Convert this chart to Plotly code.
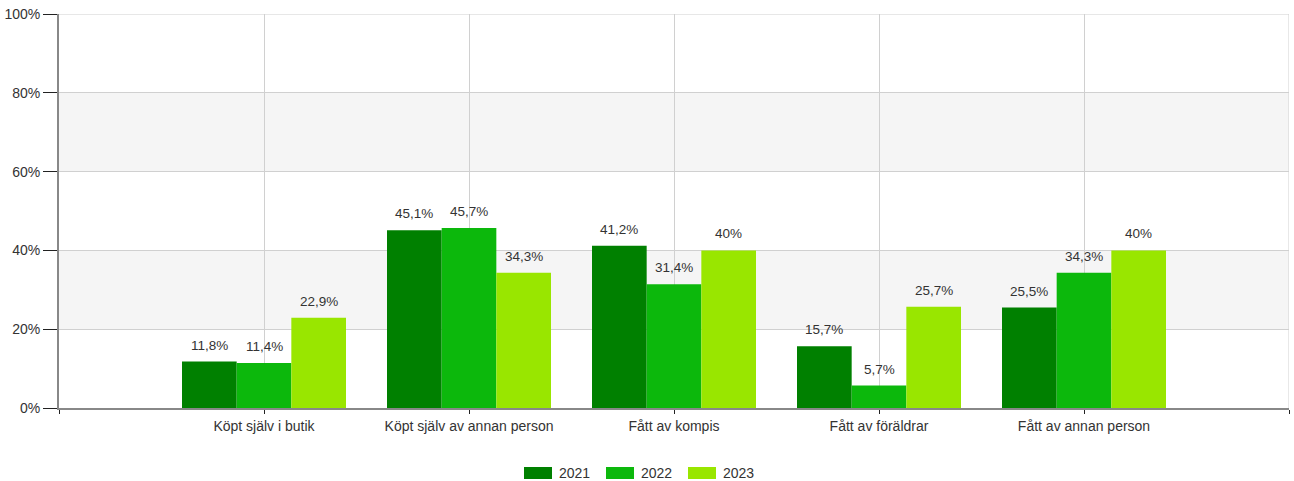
import plotly.graph_objects as go

categories = ["Köpt själv i butik", "Köpt själv av annan person", "Fått av kompis", "Fått av föräldrar", "Fått av annan person"]
years = ["2021", "2022", "2023"]
v2021 = [11.8, 45.1, 41.2, 15.7, 25.5]
v2022 = [11.4, 45.7, 31.4, 5.7, 34.3]
v2023 = [22.9, 34.3, 40, 25.7, 40]
series = [v2021, v2022, v2023]
colors = ["#008000", "#0cb80c", "#99e600"]
y_ticks = [0, 20, 40, 60, 80, 100]

FONT = "Liberation Sans, Arial, sans-serif"
TXT = "#333333"
GRID = "#d0d0d0"

def fmt(v):
    return f"{v:g}".replace(".", ",") + "%"

fig = go.Figure()
n = len(series)
bw = 0.8 / n
xs = list(range(len(categories)))
annotations = []
for i, (yr, vals, col) in enumerate(zip(years, series, colors)):
    off = -0.4 + i * bw
    fig.add_trace(go.Bar(
        x=xs, y=vals, name=yr, marker=dict(color=col, line=dict(width=0)),
        width=bw, offset=off, showlegend=False, hoverinfo="y",
    ))
    for x, v in zip(xs, vals):
        annotations.append(dict(
            x=x + off + bw / 2, y=v, xref="x", yref="y", text=fmt(v),
            showarrow=False, yanchor="bottom", yshift=7,
            font=dict(family=FONT, size=13.5, color=TXT),
        ))

# body margin is removed by post_script, so page pixels == figure pixels
PL, PR, PT, PB = 59, 1289, 14, 408   # plot area in page pixels
FIG_W, FIG_H = 1294, 481
L, T = PL, PT
R = FIG_W - PR
B = FIG_H - PB
W, H = PR - PL, PB - PT

def px(xp):
    return (xp - PL) / W
def py(yp):
    return (PB - yp) / H

shapes = []
for lo, hi in [(20, 40), (60, 80)]:
    shapes.append(dict(type="rect", xref="paper", yref="y", x0=0, x1=1, y0=lo, y1=hi,
                       fillcolor="#f5f5f5", line=dict(width=0), layer="below"))
# edge gridlines (top and right)
shapes.append(dict(type="line", xref="paper", yref="y", x0=0, x1=1, y0=y_ticks[-1], y1=y_ticks[-1],
                   line=dict(color=GRID, width=1), layer="below"))
shapes.append(dict(type="line", xref="x", yref="paper", x0=len(categories), x1=len(categories), y0=0, y1=1,
                   line=dict(color=GRID, width=1), layer="below"))

leg_x = [524, 606, 688]
for yr, col, lx in zip(years, colors, leg_x):
    shapes.append(dict(type="rect", xref="paper", yref="paper",
                       x0=px(lx), x1=px(lx + 28), y0=py(479), y1=py(467),
                       fillcolor=col, line=dict(width=0)))
    annotations.append(dict(x=px(lx + 33), y=py(473), xref="paper", yref="paper",
                            text=yr, showarrow=False, xanchor="left", yanchor="middle",
                            font=dict(family=FONT, size=14, color=TXT)))

fig.update_layout(
    width=FIG_W, height=FIG_H,
    margin=dict(l=L, r=R, t=T, b=B, autoexpand=False),
    paper_bgcolor="white", plot_bgcolor="white",
    barmode="overlay",
    showlegend=False,
    shapes=shapes, annotations=annotations,
    font=dict(family=FONT, size=14, color=TXT),
)
fig.update_xaxes(
    range=[-1, 5], tickmode="array", tickvals=[-1] + xs + [5],
    ticktext=[""] + categories + [""],
    showgrid=True, gridcolor=GRID, gridwidth=1,
    showline=True, linecolor="#888888", linewidth=2,
    ticks="outside", ticklen=4, tickcolor="#222222", tickwidth=1,
    zeroline=False, tickfont=dict(family=FONT, size=14, color=TXT),
    automargin=False,
)
fig.update_yaxes(
    range=[0, 100], tickmode="array", tickvals=y_ticks,
    ticktext=[f"{t}%" for t in y_ticks],
    showgrid=True, gridcolor=GRID, gridwidth=1,
    showline=True, linecolor="#888888", linewidth=2,
    ticks="outside", ticklen=14, tickcolor="#222222", tickwidth=1,
    zeroline=False, tickfont=dict(family=FONT, size=14, color=TXT),
    ticklabeloverflow="allow", automargin=False,
)

fig.write_html(
    "out.html",
    config={"displayModeBar": False},
    post_script="document.body.style.margin='0';document.body.style.overflow='hidden';",
)
